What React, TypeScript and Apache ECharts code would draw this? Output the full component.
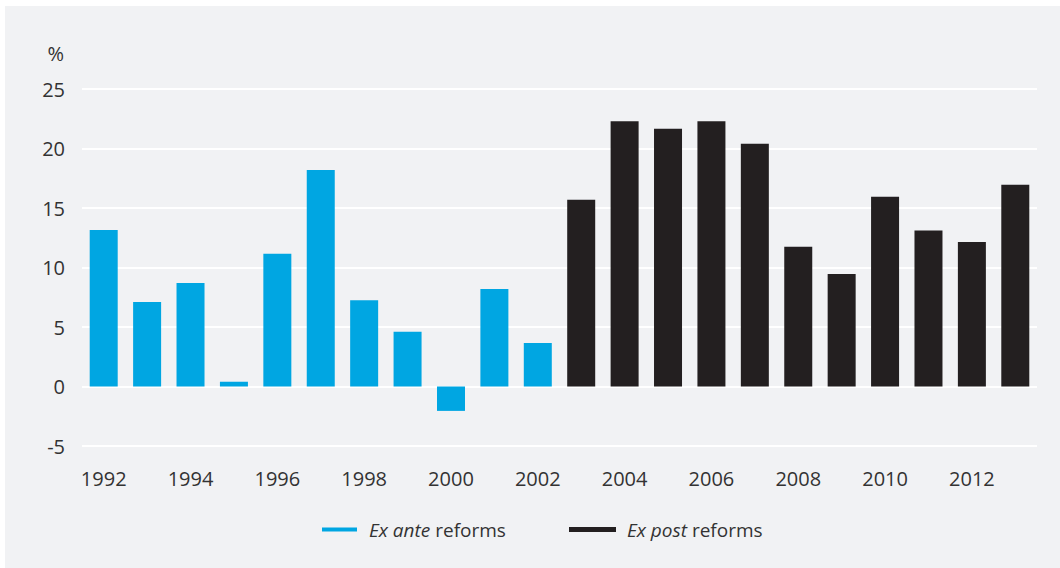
import React, { useEffect, useRef } from "react";
import * as echarts from "echarts";

const years = [
  "1992", "1993", "1994", "1995", "1996", "1997", "1998", "1999", "2000", "2001", "2002",
  "2003", "2004", "2005", "2006", "2007", "2008", "2009", "2010", "2011", "2012", "2013",
];
const exAnte = [13.15, 7.1, 8.7, 0.4, 11.15, 18.2, 7.25, 4.6, -2.05, 8.2, 3.65,
  null, null, null, null, null, null, null, null, null, null, null];
const exPost = [null, null, null, null, null, null, null, null, null, null, null,
  15.7, 22.3, 21.65, 22.3, 20.4, 11.75, 9.45, 15.95, 13.1, 12.15, 16.95];
const yTicks = { min: -5, max: 25, interval: 5 };

const FONT = "Open Sans";
const TEXT = "#333333";

export default function App() {
  const ref = useRef<HTMLDivElement>(null);
  useEffect(() => {
    document.body.style.margin = "0";
    const chart = echarts.init(ref.current!, null, { renderer: "svg" });
    chart.setOption({
      animation: false,
      backgroundColor: "#ffffff",
      textStyle: { fontFamily: FONT, color: TEXT },
      graphic: [
        {
          type: "rect",
          z: -10,
          silent: true,
          shape: { x: 5, y: 6, width: 1060, height: 570 },
          style: { fill: "#f1f2f4" },
        },
      ],
      grid: { left: 82, right: 23, top: 89, bottom: 122, containLabel: false },
      xAxis: {
        type: "category",
        data: years,
        axisLine: { show: false, onZero: false },
        axisTick: { show: false },
        axisLabel: {
          interval: 1,
          margin: 22,
          fontSize: 20,
          fontFamily: FONT,
          color: TEXT,
        },
      },
      yAxis: {
        type: "value",
        min: yTicks.min,
        max: yTicks.max,
        interval: yTicks.interval,
        name: "%",
        nameLocation: "end",
        nameGap: 26,
        nameTextStyle: { fontSize: 20, fontFamily: FONT, color: TEXT, align: "right", padding: [0, 18, 0, 0] },
        axisLine: { show: false },
        axisTick: { show: false },
        axisLabel: { margin: 17, fontSize: 20, fontFamily: FONT, color: TEXT },
        splitLine: { lineStyle: { color: "#ffffff", width: 2 } },
      },
      legend: [
        {
          data: [{ name: "Ex ante reforms", icon: "rect" }],
          left: 317,
          top: 515,
          itemWidth: 35,
          itemHeight: 4,
          formatter: () => "{i|Ex ante} reforms",
          textStyle: {
            fontSize: 19,
            fontFamily: FONT,
            color: TEXT,
            padding: [0, 0, 0, 7],
            rich: { i: { fontStyle: "italic", fontSize: 19, fontFamily: FONT, color: TEXT } },
          },
        },
        {
          data: [{ name: "Ex post reforms", icon: "rect" }],
          left: 564,
          top: 515,
          itemWidth: 47,
          itemHeight: 5,
          formatter: () => "{i|Ex post} reforms",
          textStyle: {
            fontSize: 19,
            fontFamily: FONT,
            color: TEXT,
            padding: [0, 0, 0, 6],
            rich: { i: { fontStyle: "italic", fontSize: 19, fontFamily: FONT, color: TEXT } },
          },
        },
      ],
      series: [
        {
          name: "Ex ante reforms",
          type: "bar",
          stack: "all",
          data: exAnte,
          barWidth: 28,
          itemStyle: { color: "#00a6e2" },
        },
        {
          name: "Ex post reforms",
          type: "bar",
          stack: "all",
          data: exPost,
          barWidth: 28,
          itemStyle: { color: "#231f20" },
        },
      ],
    });
    return () => chart.dispose();
  }, []);
  return <div ref={ref} style={{ width: 1060, height: 568 }} />;
}
